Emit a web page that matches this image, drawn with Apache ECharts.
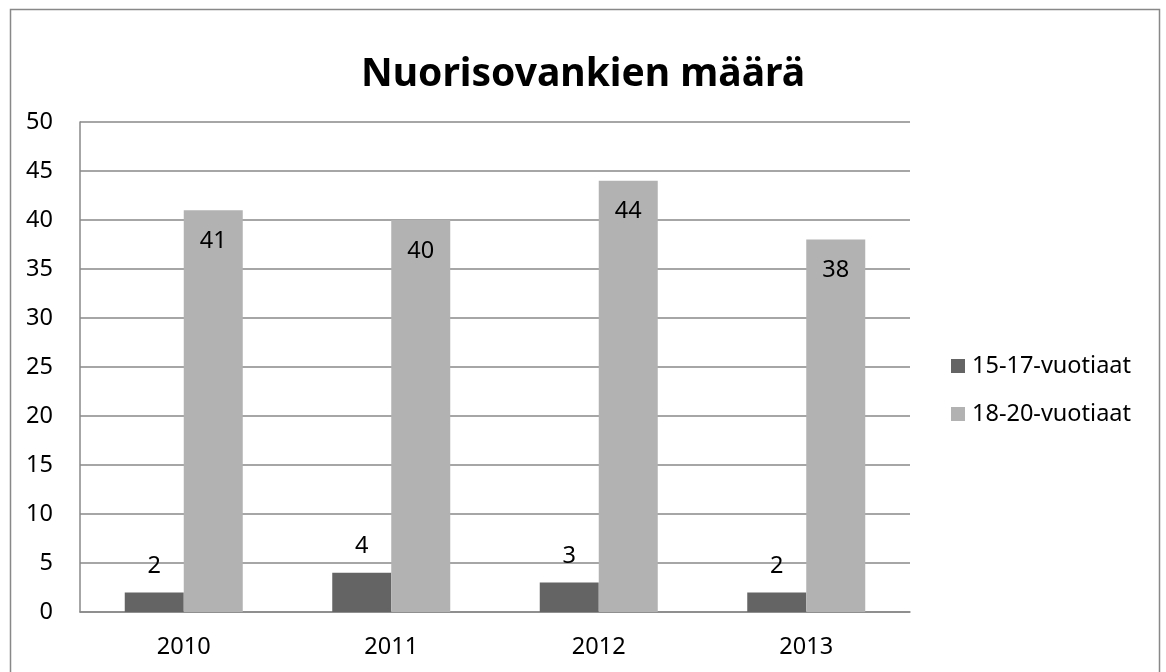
<!DOCTYPE html>
<html><head><meta charset="utf-8">
<script src="https://cdn.jsdelivr.net/npm/echarts@6/dist/echarts.min.js"></script>
<style>html,body{margin:0;padding:0;background:#fff}#c{width:1166px;height:672px}</style>
</head><body><div id="c"></div>
<script>
const categories = ['2010', '2011', '2012', '2013'];
const series1Name = '15-17-vuotiaat';
const series1 = [2, 4, 3, 2];
const series2Name = '18-20-vuotiaat';
const series2 = [41, 40, 44, 38];
const titleText = 'Nuorisovankien määrä';

const font = 'Noto Sans';
const fs = 23.5;
const chart = echarts.init(document.getElementById('c'));
chart.setOption({
  animation: false,
  backgroundColor: '#fff',
  graphic: [{
    type: 'rect', shape: { x: 10.5, y: 9.5, width: 1149, height: 700 },
    style: { fill: 'none', stroke: '#888', lineWidth: 1.5 }, silent: true, z: -1
  }],
  title: {
    text: titleText, left: 'center', top: 50,
    textStyle: { fontFamily: font, fontSize: 39, fontWeight: 'bold', color: '#000' }
  },
  legend: {
    orient: 'vertical', left: 946, top: 349, itemGap: 24,
    itemWidth: 14, itemHeight: 14, icon: 'rect',
    textStyle: { fontFamily: font, fontSize: fs, color: '#000', padding: [0, 0, 0, 2] },
    data: [series1Name, series2Name]
  },
  grid: { left: 80, right: 256, top: 122, bottom: 60 },
  xAxis: {
    type: 'category', data: categories,
    axisLine: { lineStyle: { color: '#888', width: 1.5 } },
    axisTick: { show: false },
    axisLabel: { fontFamily: font, fontSize: fs, color: '#000', margin: 23 }
  },
  yAxis: {
    type: 'value', min: 0, max: 50, interval: 5,
    axisLine: { show: true, lineStyle: { color: '#888', width: 1.5 } },
    axisTick: { show: false },
    splitLine: { lineStyle: { color: '#888', width: 1.5 } },
    axisLabel: { fontFamily: font, fontSize: fs, color: '#000', margin: 27 }
  },
  series: [{
    name: series1Name, type: 'bar', data: series1, barWidth: 59, barGap: '0%',
    itemStyle: { color: '#646464' },
    label: { show: true, position: 'top', distance: 14, fontFamily: font, fontSize: fs, color: '#000' }
  }, {
    name: series2Name, type: 'bar', data: series2, barWidth: 59,
    itemStyle: { color: '#b2b2b2' },
    label: { show: true, position: 'insideTop', distance: 19, fontFamily: font, fontSize: fs, color: '#000' }
  }]
});
</script></body></html>
